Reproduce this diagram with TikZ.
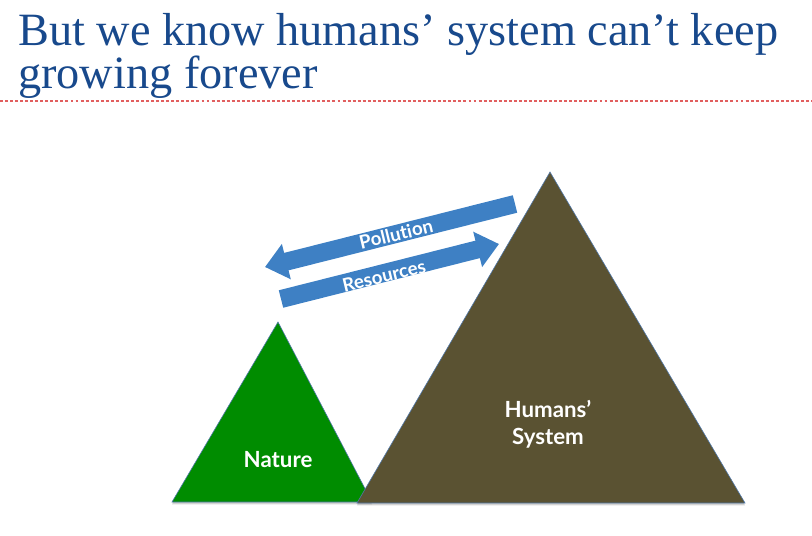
\documentclass[tikz,border=0pt]{standalone}
\usepackage{fontspec}
\setmainfont{Liberation Serif}
\newfontfamily\labelfont[RawFeature=-liga]{Lato}
\usetikzlibrary{arrows.meta,shadows}
\definecolor{titleblue}{RGB}{24,73,140}
\definecolor{rulered}{RGB}{225,95,95}
\definecolor{naturegreen}{RGB}{0,140,0}
\definecolor{humanbrown}{RGB}{90,82,50}
\definecolor{flowblue}{RGB}{62,128,196}
\definecolor{edgeblue}{RGB}{80,120,170}

\begin{document}
\begin{tikzpicture}[x=0.03cm, y=-0.03cm,
  titletext/.style={anchor=base west, inner sep=0pt, text=titleblue,
    font=\fontsize{39.5pt}{37pt}\selectfont},
  mountain/.style={draw=edgeblue, line width=0.5pt,
    drop shadow={opacity=0.35, shadow xshift=0pt, shadow yshift=-2pt}},
  flowarrow/.style={draw=flowblue, line width=0.54cm,
    -{Triangle[width=1.05cm, length=0.66cm]}},
  lbl/.style={text=white, inner sep=0pt, font=\labelfont\bfseries\fontsize{19pt}{23pt}\selectfont,
    align=center},
  flowlbl/.style={lbl, font=\labelfont\bfseries\fontsize{16pt}{17pt}\selectfont}]
  \useasboundingbox (0,0) rectangle (812,536);
  % title
  \node[titletext] (titleA) at (18,46) {But we know humans’ system can’t keep};
  \node[titletext] (titleB) at (18,89) {growing forever};
  \draw[rulered, line width=1pt, dash pattern=on 2.5pt off 1.8pt] (0,101) -- (812,101);
  % mountains
  \coordinate (natTop) at (278,322);
  \coordinate (natLeft) at (172,502);
  \coordinate (natRight) at (372,502);
  \coordinate (humTop) at (550,172);
  \coordinate (humLeft) at (357,503);
  \coordinate (humRight) at (745,503);
  \fill[naturegreen, mountain] (natTop) -- (natLeft) -- (natRight) -- cycle;
  \fill[humanbrown, mountain] (humTop) -- (humLeft) -- (humRight) -- cycle;
  \node[lbl] (nature) at (278,460) {Nature};
  \node[lbl] (humans) at (548,424) {Humans’\\System};
  % flows
  \coordinate (pollStart) at (515,204);
  \coordinate (pollTip) at (265,267);
  \coordinate (resStart) at (281,299);
  \coordinate (resTip) at (499,244);
  \draw[flowarrow] (pollStart) -- (pollTip);
  \draw[flowarrow] (resStart) -- (resTip);
  \node[flowlbl, rotate=13.5] (pollution) at (396,234) {Pollution};
  \node[flowlbl, rotate=13.5] (resources) at (384,276) {Resources};
\end{tikzpicture}
\end{document}
